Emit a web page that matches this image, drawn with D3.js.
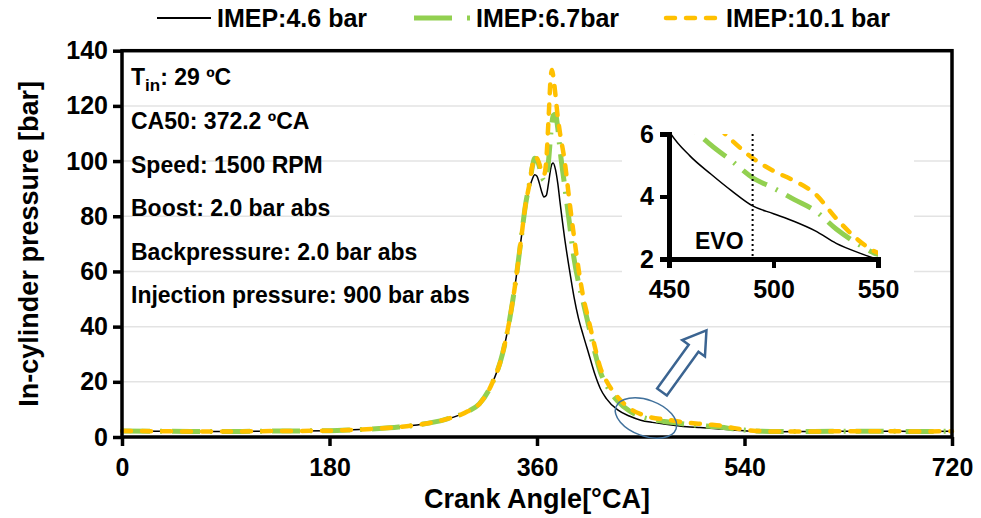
<!DOCTYPE html>
<html>
<head>
<meta charset="utf-8">
<script src="https://cdn.jsdelivr.net/npm/d3@7/dist/d3.min.js"></script>
<style>
  body { margin: 0; background: #fff; }
  text { font-family: "Liberation Sans", Arial, sans-serif; font-weight: bold; fill: #000; }
</style>
</head>
<body>
<div id="chart"></div>
<script>
var width = 981;
var height = 518;

// crank angle samples [°CA]
var angles = [0, 30, 60, 90, 120, 150, 180, 200, 220, 240, 260, 280, 300, 310, 320, 330, 336, 342, 346, 350,
  354, 356, 358, 360, 362, 364, 366, 368, 370, 372, 373, 374, 376, 378, 380, 384, 388, 392, 396, 400,
  405, 410, 415, 420, 430, 440, 450, 460, 470, 480, 490, 500, 510, 520, 530, 540, 550, 570, 600, 630,
  660, 690, 720];

// in-cylinder pressure [bar]
var p46 = [2.2, 2.1, 2.0, 2.0, 2.1, 2.2, 2.3, 2.6, 3.0, 3.6, 4.6, 6.3, 9.3, 12.0, 18.5, 30, 42, 58, 71, 83,
  91, 93.5, 95, 94.5, 92, 89, 87, 87.5, 92, 97.5, 99, 99.3, 97, 92, 85, 72, 61, 51, 43, 37,
  30, 23, 17.5, 14, 9.8, 7.6, 6.1, 5.3, 4.72, 4.18, 3.7, 3.45, 3.2, 2.9, 2.5, 2.22, 2.0, 1.9, 2.0, 2.1,
  2.1, 2.0, 2.1];
var p67 = [2.2, 2.1, 2.0, 2.0, 2.1, 2.2, 2.3, 2.6, 3.0, 3.6, 4.6, 6.3, 9.3, 12.0, 18.5, 30, 42, 58, 71, 84,
  93, 98, 101, 100.5, 98, 95, 93, 93.5, 100, 110, 114, 116.5, 117, 112, 104, 91, 78, 65, 56, 49,
  40, 31, 23.5, 19, 13, 9.5, 7.4, 6.3, 5.65, 5.14, 4.6, 4.27, 3.9, 3.54, 2.96, 2.5, 2.15, 2.0, 2.0, 2.1,
  2.1, 2.0, 2.1];
var p101 = [2.2, 2.1, 2.0, 2.0, 2.1, 2.2, 2.3, 2.6, 3.0, 3.6, 4.6, 6.3, 9.3, 12.0, 18.5, 30, 42, 58, 71, 84,
  93, 98.5, 101.5, 101, 99, 96, 95, 100, 115, 131, 133, 131, 124, 116, 110, 100, 86, 73, 61, 51,
  42, 33, 25, 20.5, 14.5, 10.5, 8.3, 7.0, 6.45, 5.8, 5.23, 4.82, 4.5, 4.08, 3.3, 2.64, 2.2, 2.0, 2.0, 2.1,
  2.1, 2.0, 2.1];

var seriesNames = ["IMEP:4.6 bar", "IMEP:6.7bar", "IMEP:10.1 bar"];
var xTicks = [0, 180, 360, 540, 720];
var yTicks = [0, 20, 40, 60, 80, 100, 120, 140];
var insetXTicks = [450, 500, 550];
var insetYTicks = [2, 4, 6];
var evoAngle = 490;

var conditions = ["CA50: 372.2 ºCA", "Speed: 1500 RPM", "Boost: 2.0 bar abs",
  "Backpressure: 2.0 bar abs", "Injection pressure: 900 bar abs"];

var styles = [
  { color: "#000000", w: 1.5, dash: null, cap: "butt" },
  { color: "#92D050", w: 5, dash: "28,10,2,10", cap: "butt" },
  { color: "#FFC000", w: 4.5, dash: "9,11", cap: "round" }
];
var seriesData = [p46, p67, p101].map(function (vals) {
  return angles.map(function (a, i) { return { a: a, p: vals[i] }; });
});

var svg = d3.select("#chart").append("svg")
  .attr("width", width)
  .attr("height", height);

var x = d3.scaleLinear().domain([0, 720]).range([122, 952]);
var y = d3.scaleLinear().domain([0, 140]).range([437, 50.7]);

// grid
svg.append("g").selectAll("line")
  .data(yTicks.filter(function (t) { return t > 0 && t < 140; }))
  .enter().append("line")
  .attr("x1", x(0)).attr("x2", x(720))
  .attr("y1", function (d) { return y(d); }).attr("y2", function (d) { return y(d); })
  .attr("stroke", "#E3E3E3").attr("stroke-width", 1.5);

// conditions text
var info = svg.append("g").attr("transform", "translate(131,0)");
var t0 = info.append("text").attr("y", 85).style("font-size", "23px");
t0.append("tspan").text("T");
t0.append("tspan").text("in").attr("dy", 6).style("font-size", "17px");
t0.append("tspan").text(": 29 ºC").attr("dy", -6);
info.selectAll(".cond")
  .data(conditions)
  .enter().append("text")
  .attr("class", "cond")
  .attr("y", function (d, i) { return 129 + i * 43.6; })
  .style("font-size", "23px")
  .text(function (d) { return d; });

// main lines
var line = d3.line()
  .x(function (d) { return x(d.a); })
  .y(function (d) { return y(d.p); })
  .curve(d3.curveMonotoneX);

svg.append("g").selectAll("path")
  .data(seriesData)
  .enter().append("path")
  .attr("d", line)
  .attr("fill", "none")
  .attr("stroke", function (d, i) { return styles[i].color; })
  .attr("stroke-width", function (d, i) { return styles[i].w; })
  .attr("stroke-dasharray", function (d, i) { return styles[i].dash; })
  .attr("stroke-linecap", function (d, i) { return styles[i].cap; });

// frame + axes
svg.append("rect")
  .attr("x", x(0)).attr("y", y(140))
  .attr("width", x(720) - x(0)).attr("height", y(0) - y(140))
  .attr("fill", "none").attr("stroke", "#000").attr("stroke-width", 3.5);

var yAxis = svg.append("g")
  .attr("transform", "translate(" + x(0) + ",0)")
  .call(d3.axisLeft(y).tickValues(yTicks).tickSize(9).tickPadding(5));
var xAxis = svg.append("g")
  .attr("transform", "translate(0," + y(0) + ")")
  .call(d3.axisBottom(x).tickValues(xTicks).tickSize(9).tickPadding(12));
[xAxis, yAxis].forEach(function (ax) {
  ax.select(".domain").remove();
  ax.selectAll(".tick line").attr("stroke", "#000").attr("stroke-width", 3.5);
  ax.selectAll(".tick text").style("font-size", "25px").attr("fill", "#000");
});

svg.append("text")
  .attr("x", (x(0) + x(720)) / 2).attr("y", 508)
  .attr("text-anchor", "middle")
  .style("font-size", "27px")
  .text("Crank Angle[°CA]");
svg.append("text")
  .attr("transform", "translate(38," + ((y(0) + y(140)) / 2) + ") rotate(-90)")
  .attr("text-anchor", "middle")
  .style("font-size", "27px")
  .text("In-cylinder pressure [bar]");

// legend
var legendPos = [{ x1: 157, x2: 211, tx: 217 }, { x1: 414, x2: 472, tx: 476 }, { x1: 666, x2: 720, tx: 726 }];
var legend = svg.append("g").selectAll("g")
  .data(seriesNames)
  .enter().append("g");
legend.append("line")
  .attr("x1", function (d, i) { return legendPos[i].x1; })
  .attr("x2", function (d, i) { return legendPos[i].x2; })
  .attr("y1", 18).attr("y2", 18)
  .attr("stroke", function (d, i) { return styles[i].color; })
  .attr("stroke-width", function (d, i) { return Math.max(styles[i].w, 2); })
  .attr("stroke-dasharray", function (d, i) { return i == 1 ? "38,15,3,20" : styles[i].dash; })
  .attr("stroke-linecap", function (d, i) { return styles[i].cap; });
legend.append("text")
  .attr("x", function (d, i) { return legendPos[i].tx; })
  .attr("y", 27)
  .style("font-size", "25px")
  .text(function (d) { return d; });

// zoom marker
svg.append("ellipse")
  .attr("transform", "translate(646,418) rotate(20)")
  .attr("rx", 32).attr("ry", 18)
  .attr("fill", "none").attr("stroke", "#41719C").attr("stroke-width", 1.5);
var L = 76, hl = 22, sw = 6, hw = 14;
svg.append("path")
  .attr("transform", "translate(662,392) rotate(-54.2)")
  .attr("d", "M0," + (-sw) + "L" + (L - hl) + "," + (-sw) + "L" + (L - hl) + "," + (-hw) +
    "L" + L + ",0L" + (L - hl) + "," + hw + "L" + (L - hl) + "," + sw + "L0," + sw + "Z")
  .attr("fill", "#fff").attr("stroke", "#3B6491").attr("stroke-width", 2.5);

// inset
var ix = d3.scaleLinear().domain([450, 550]).range([669, 878]);
var iy = d3.scaleLinear().domain([2, 6]).range([259, 134]);

svg.append("rect")
  .attr("x", 622).attr("y", 114).attr("width", 292).attr("height", 200)
  .attr("fill", "#fff");

svg.append("clipPath").attr("id", "insetClip")
  .append("rect")
  .attr("x", ix(450)).attr("y", iy(6))
  .attr("width", ix(550) - ix(450)).attr("height", iy(2) - iy(6));

var iline = d3.line()
  .x(function (d) { return ix(d.a); })
  .y(function (d) { return iy(d.p); })
  .curve(d3.curveMonotoneX);

svg.append("g").attr("clip-path", "url(#insetClip)")
  .selectAll("path")
  .data(seriesData)
  .enter().append("path")
  .attr("d", iline)
  .attr("fill", "none")
  .attr("stroke", function (d, i) { return styles[i].color; })
  .attr("stroke-width", function (d, i) { return styles[i].w; })
  .attr("stroke-dasharray", function (d, i) { return styles[i].dash; })
  .attr("stroke-linecap", function (d, i) { return styles[i].cap; });

svg.append("line")
  .attr("x1", ix(evoAngle)).attr("x2", ix(evoAngle))
  .attr("y1", iy(6)).attr("y2", iy(2))
  .attr("stroke", "#000").attr("stroke-width", 2).attr("stroke-dasharray", "2,3");
svg.append("text")
  .attr("x", 695).attr("y", 249)
  .style("font-size", "23px")
  .text("EVO");

var iyAxis = svg.append("g")
  .attr("transform", "translate(" + ix(450) + ",0)")
  .call(d3.axisLeft(iy).tickValues(insetYTicks).tickFormat(d3.format("d")).tickSize(9).tickPadding(6));
var ixAxis = svg.append("g")
  .attr("transform", "translate(0," + iy(2) + ")")
  .call(d3.axisBottom(ix).tickValues(insetXTicks).tickSize(9).tickPadding(12));
[iyAxis, ixAxis].forEach(function (ax) {
  ax.select(".domain").attr("stroke", "#000").attr("stroke-width", 5);
  ax.selectAll(".tick line").attr("stroke", "#000").attr("stroke-width", 4);
  ax.selectAll(".tick text").style("font-size", "25px").attr("fill", "#000");
});
</script>
</body>
</html>
